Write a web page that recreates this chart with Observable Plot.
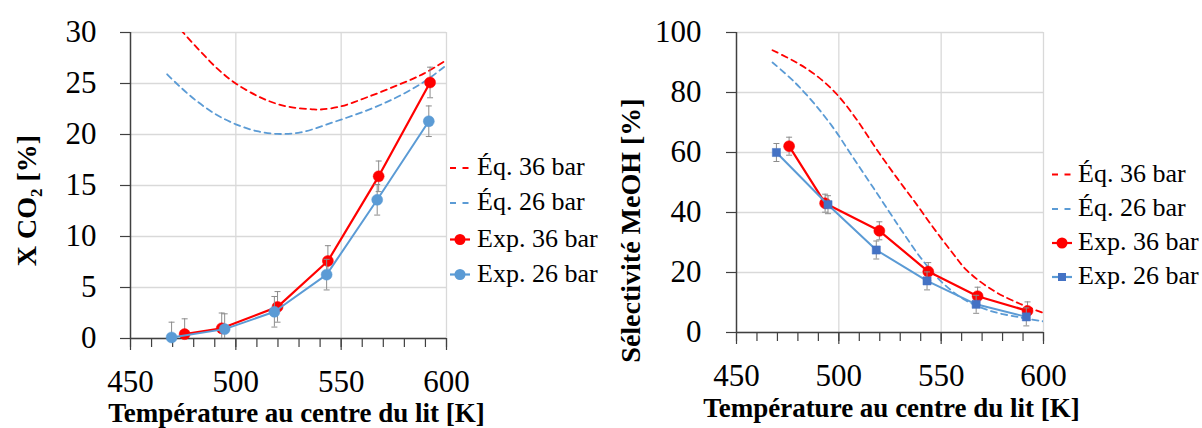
<!DOCTYPE html>
<html><head><meta charset="utf-8">
<script src="https://cdn.jsdelivr.net/npm/d3@7"></script>
<script src="https://cdn.jsdelivr.net/npm/@observablehq/plot@0.6"></script>
<style>
body{margin:0;background:#fff;}
#wrap{position:relative;width:1202px;height:428px;overflow:hidden;background:#fff;}
.panel{position:absolute;top:0;}
#legend{position:absolute;left:0;top:0;pointer-events:none;}
</style></head><body><div id="wrap"></div>
<script>
// ---------- data ----------
const seriesLabels = ["Éq. 36 bar", "Éq. 26 bar", "Exp. 36 bar", "Exp. 26 bar"];
const xTitle = "Température au centre du lit [K]";
const yTitleConv = "X CO₂ [%]";
const yTitleSel = "Sélectivité MeOH [%]";
const xTicks = [450, 500, 550, 600];
const xMinorTicks = [450, 460, 470, 480, 490, 500, 510, 520, 530, 540, 550, 560, 570, 580, 590, 600];
const xGrid = [500, 550, 600];
const yTicksConv = [0, 5, 10, 15, 20, 25, 30];
const yTicksSel = [0, 20, 40, 60, 80, 100];

// experimental points
const tempExp36 = [475.7, 493.3, 519.8, 543.7, 567.8, 592.2];
const tempExp26 = [469.5, 494.7, 518.3, 543.1, 567.1, 591.6];
const convExp36 = [0.43, 1.0, 3.1, 7.6, 15.9, 25.1];
const convExp26 = [0.1, 0.92, 2.62, 6.26, 13.6, 21.3];
const convErr = 1.5;
const selExp36 = [62.1, 43.1, 33.9, 20.3, 12.1, 7.2];
const selExp26 = [60, 42.6, 27.5, 17.2, 9.4, 5.2];
const selErr = 3;

// equilibrium curves
const tempEqConv36 = [467.5, 475.3, 484, 491.9, 499.8, 510.9, 518.8, 526.7, 536.2, 540.2, 549.7, 562.3, 576.6, 589.2, 600];
const convEq36 = [31.9, 29.93, 27.97, 26.33, 25.02, 23.71, 23.05, 22.66, 22.47, 22.45, 22.75, 23.65, 24.82, 25.97, 27.3];
const tempEqConv26 = [467.4, 472.9, 480.8, 490.3, 500, 510, 519.6, 530.7, 546.5, 562.3, 576.6, 589.2, 600];
const convEq26 = [25.9, 24.8, 23.38, 22.0, 21.0, 20.33, 20.06, 20.2, 21.22, 22.37, 23.67, 25.15, 26.8];
const tempEqSel36 = [467.6, 479.3, 489.1, 498.9, 508.6, 518.4, 528.2, 537.9, 546.1, 555, 562.7, 575.7, 588.7, 600];
const selEq36 = [94.1, 90, 85.6, 79.5, 71.1, 61.1, 51.7, 42.8, 35, 27, 20.6, 13.9, 9.5, 6.5];
const tempEqSel26 = [467.6, 477.7, 487.5, 497.2, 507, 516.8, 526.5, 530.1, 539.9, 549.7, 561, 574.1, 588.7, 600];
const selEq26 = [90, 83.9, 76.7, 68.3, 58.3, 48.3, 38.3, 34.6, 25, 17.2, 11.1, 7.2, 5, 3.7];

// ---------- styling ----------
const RED = "#FF0000", BLUE = "#5B9BD5", BLUE_SQ = "#4472C4";
const AXIS = "#404040", GRID = "#d9d9d9", ERR = "#8c8c8c";
const FONT = "'Liberation Serif', 'Times New Roman', serif";

const zip = (xs, ys, err) => xs.map((t, i) => ({t, v: ys[i], lo: ys[i] - (err || 0), hi: ys[i] + (err || 0)}));
const capSymbol = {draw(ctx) { ctx.moveTo(-3, 0); ctx.lineTo(3, 0); }};

function panel({width, ml, mr, mt, mb, yDomain, yTicks, yPad, yTitle, yTitleDx, yTitleDy, xTitleDx, xTitleDy,
                eq36, eq26, exp36, exp26, sym26, fill26}) {
  const errMarks = (d) => [
    Plot.ruleX(d, {x: "t", y1: "lo", y2: "hi", stroke: ERR, strokeWidth: 1, clip: true}),
    Plot.dot(d, {x: "t", y: "lo", symbol: capSymbol, r: 3, stroke: ERR, fill: "none", strokeWidth: 1, clip: true}),
    Plot.dot(d, {x: "t", y: "hi", symbol: capSymbol, r: 3, stroke: ERR, fill: "none", strokeWidth: 1, clip: true})
  ];
  return Plot.plot({
    width, height: 428,
    marginLeft: ml, marginRight: mr, marginTop: mt, marginBottom: mb,
    style: {fontFamily: FONT, background: "white", color: "#000", overflow: "visible"},
    x: {domain: [450, 600]},
    y: {domain: yDomain},
    marks: [
      Plot.gridY({ticks: yTicks, stroke: GRID, strokeOpacity: 1, strokeWidth: 1.3}),
      Plot.gridX({ticks: xGrid, stroke: GRID, strokeOpacity: 1, strokeWidth: 1.3}),
      Plot.axisX({ticks: xMinorTicks, tickSize: 9, text: null, stroke: AXIS, strokeWidth: 1.2, label: null}),
      Plot.axisX({ticks: xTicks, tickSize: 12, tickPadding: 19, fontSize: 31, stroke: AXIS, strokeWidth: 1.2, fill: "#000", label: null}),
      Plot.axisY({ticks: yTicks, tickSize: 10, tickPadding: yPad, fontSize: 31, stroke: AXIS, strokeWidth: 1.2, fill: "#000", label: null}),
      Plot.ruleY([yDomain[0]], {stroke: AXIS, strokeWidth: 1.5}),
      Plot.ruleX([450], {stroke: AXIS, strokeWidth: 1.5}),
      Plot.line(eq36, {x: "t", y: "v", stroke: RED, strokeWidth: 1.8, strokeDasharray: "6,4.5", curve: "catmull-rom", clip: true}),
      Plot.line(eq26, {x: "t", y: "v", stroke: BLUE, strokeWidth: 1.8, strokeDasharray: "6,4.5", curve: "catmull-rom", clip: true}),
      ...errMarks(exp36),
      Plot.line(exp36, {x: "t", y: "v", stroke: RED, strokeWidth: 2.2}),
      Plot.dot(exp36, {x: "t", y: "v", r: 5.5, fill: RED, stroke: RED, strokeWidth: 0.5}),
      ...errMarks(exp26),
      Plot.line(exp26, {x: "t", y: "v", stroke: BLUE, strokeWidth: 2}),
      Plot.dot(exp26, {x: "t", y: "v", r: sym26 === "square" ? 4.6 : 5.5, symbol: sym26, fill: fill26, stroke: fill26, strokeWidth: 0.5}),
      Plot.text([yTitle], {text: d => d, frameAnchor: "top-left", dx: yTitleDx, dy: yTitleDy, rotate: -90,
        textAnchor: "middle", lineAnchor: "middle", fontSize: 28, fontWeight: "bold", fill: "#000"}),
      Plot.text([xTitle], {text: d => d, frameAnchor: "bottom", dx: xTitleDx, dy: xTitleDy,
        textAnchor: "middle", lineAnchor: "middle", fontSize: 27, fontWeight: "bold", fill: "#000"})
    ]
  });
}

const wrap = document.getElementById("wrap");

const left = panel({
  width: 600, ml: 130, mr: 154, mt: 32, mb: 90,
  yDomain: [0, 30], yTicks: yTicksConv, yPad: 24,
  yTitle: yTitleConv, yTitleDx: -103, yTitleDy: 168, xTitleDx: 8, xTitleDy: 75,
  eq36: zip(tempEqConv36, convEq36), eq26: zip(tempEqConv26, convEq26),
  exp36: zip(tempExp36, convExp36, convErr), exp26: zip(tempExp26, convExp26, convErr),
  sym26: "circle", fill26: BLUE
});
left.classList.add("panel"); left.style.left = "0px";
wrap.appendChild(left);

const right = panel({
  width: 602, ml: 136, mr: 159, mt: 32, mb: 96,
  yDomain: [0, 100], yTicks: yTicksSel, yPad: 25,
  yTitle: yTitleSel, yTitleDx: -105, yTitleDy: 198, xTitleDx: 1.5, xTitleDy: 76,
  eq36: zip(tempEqSel36, selEq36), eq26: zip(tempEqSel26, selEq26),
  exp36: zip(tempExp36, selExp36, selErr), exp26: zip(tempExp26, selExp26, selErr),
  sym26: "square", fill26: BLUE_SQ
});
right.classList.add("panel"); right.style.left = "600px";
wrap.appendChild(right);

// ---------- legends ----------
const leg = d3.select(wrap).append("svg").attr("id", "legend").attr("width", 1202).attr("height", 428)
  .style("font-family", FONT);
function legend(x0, textX, baselines, sq) {
  const styles = [
    {stroke: RED, dash: "6,6.5"}, {stroke: BLUE, dash: "6,6.5"},
    {stroke: RED, marker: "circle", fill: RED}, {stroke: BLUE, marker: sq ? "square" : "circle", fill: sq ? BLUE_SQ : BLUE}
  ];
  seriesLabels.forEach((lab, i) => {
    const b = baselines[i], cy = b - 7, s = styles[i];
    const g = leg.append("g");
    g.append("line").attr("x1", x0).attr("x2", x0 + 20).attr("y1", cy).attr("y2", cy)
      .attr("stroke", s.stroke).attr("stroke-width", s.dash ? 1.8 : 2.2).attr("stroke-dasharray", s.dash || null);
    if (s.marker === "circle") g.append("circle").attr("cx", x0 + 10).attr("cy", cy).attr("r", 5.5).attr("fill", s.fill);
    if (s.marker === "square") g.append("rect").attr("x", x0 + 6).attr("y", cy - 4).attr("width", 8).attr("height", 8).attr("fill", s.fill);
    g.append("text").attr("x", textX).attr("y", b).attr("font-size", 26).attr("fill", "#000").text(lab);
  });
}
legend(450, 477, [175, 210, 246.5, 281.5], false);
legend(1052, 1078, [181.5, 216, 250, 284], true);
</script></body></html>
